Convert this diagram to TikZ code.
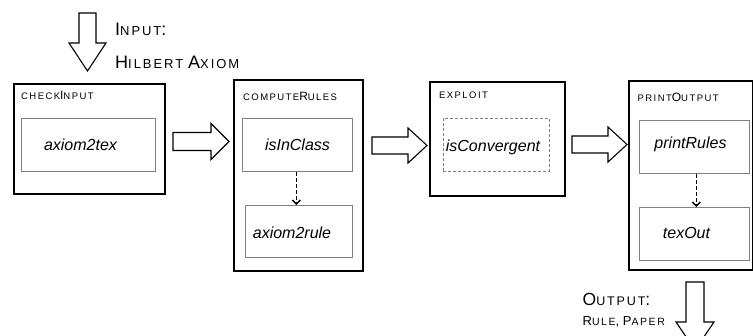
\documentclass[tikz,border=0pt]{standalone}
\usepackage{fontspec}
\setmainfont{Liberation Sans}
\newfontfamily\scfont[LetterSpace=15]{Liberation Sans}
\usetikzlibrary{arrows.meta}
\newcommand\smc[2]{{\fontsize{#1}{#1}\selectfont\scfont #2}}
\newcommand\bigc[2]{{\fontsize{#1}{#1}\selectfont #2}}
\definecolor{innergray}{RGB}{128,128,128}
\tikzset{
  outerbox/.style={draw=black, line width=2.4pt, fill=white, inner sep=0pt, anchor=north west},
  innerbox/.style={draw=innergray, line width=0.9pt, inner sep=0pt, anchor=north west},
  dashbox/.style={draw=innergray, line width=0.9pt, dash pattern=on 3pt off 2pt, inner sep=0pt, anchor=north west},
  lbl/.style={anchor=base west, inner sep=0pt},
  itxt/.style={anchor=base, inner sep=0pt, font=\fontsize{16}{16}\selectfont\itshape},
  blockarrow/.style={draw=black, line width=1.1pt, fill=white, line join=miter},
  dasharrow/.style={draw=black, line width=1.6pt, dash pattern=on 4pt off 2pt, -{Straight Barb[length=4pt,width=8pt,line width=1.4pt]}}
}
\begin{document}
\begin{tikzpicture}[x=1pt,y=-1pt]
\useasboundingbox (0,0) rectangle (753,336);
\clip (0,0) rectangle (753,336);

% outer boxes
\node[outerbox, minimum width=151pt, minimum height=110pt] (checkInput) at (13,83) {};
\node[outerbox, minimum width=129pt, minimum height=191pt] (computeRules) at (233,79) {};
\node[outerbox, minimum width=135pt, minimum height=114pt] (exploit) at (429,81) {};
\node[outerbox, minimum width=124pt, minimum height=189pt] (printOutput) at (628,80) {};

% inner boxes
\node[innerbox, minimum width=134pt, minimum height=53pt] (axiom2tex) at (21,118) {};
\node[innerbox, minimum width=110pt, minimum height=53pt] (isInClass) at (242,118) {};
\node[innerbox, minimum width=107pt, minimum height=52pt] (axiom2rule) at (245,205) {};
\node[dashbox, minimum width=106pt, minimum height=53pt] (isConvergent) at (443,118) {};
\node[innerbox, minimum width=110pt, minimum height=53pt] (printRules) at (639,120) {};
\node[innerbox, minimum width=110pt, minimum height=53pt] (texOut) at (639,207) {};

% inner texts
\node[itxt] (t1) at (80.5,150.7) {axiom2tex};
\node[itxt] (t2) at (297.5,151) {isInClass};
\node[itxt] (t3) at (292,239) {axiom2rule};
\node[itxt] (t4) at (493,151.5) {isConvergent};
\node[itxt] (t5) at (690.5,149) {printRules};
\node[itxt] (t6) at (686.5,239) {texOut};

% box labels
\node[lbl] (l1) at (21,99.3) {\smc{9.5}{CHECK}\bigc{12}{I}\smc{9.5}{NPUT}};
\node[lbl] (l2) at (243,100.5) {\smc{9.5}{COMPUTE}\bigc{12}{R}\smc{9.5}{ULES}};
\node[lbl] (l3) at (439,99) {\smc{9.5}{EXPLOIT}};
\node[lbl] (l4) at (637.5,101.3) {\smc{9.5}{PRINT}\bigc{12}{O}\smc{9.5}{UTPUT}};

% dashed arrows
\draw[dasharrow] ([xshift=-1pt]isInClass.south) -- ([xshift=-1pt]isInClass.south |- axiom2rule.north);
\draw[dasharrow] ([xshift=2pt]printRules.south) -- ([xshift=2pt]printRules.south |- texOut.north);

% block arrows
\draw[blockarrow] (173,132.5) -- (211,132.5) -- (211,123.5) -- (229,141.5) -- (211,159.5) -- (211,150.5) -- (173,150.5) -- cycle;
\draw[blockarrow] (372,137) -- (408,137) -- (408,128) -- (427,145.5) -- (408,163) -- (408,154) -- (372,154) -- cycle;
\draw[blockarrow] (572,136) -- (608,136) -- (608,127) -- (627,144.5) -- (608,162) -- (608,153) -- (572,153) -- cycle;
% input arrow
\draw[blockarrow] (79,13) -- (96,13) -- (96,43) -- (106,43) -- (87.5,71) -- (69,43) -- (79,43) -- cycle;
% output arrow
\draw[blockarrow] (686,282) -- (704,282) -- (704,322) -- (714,322) -- (695,350) -- (676,322) -- (686,322) -- cycle;

% input / output labels
\node[lbl] (inp1) at (115,36) {\bigc{18}{I}\smc{13}{NPUT}\bigc{18}{:}};
\node[lbl] (inp2) at (115,68.3) {\bigc{18}{H}\smc{13}{ILBERT}\bigc{18}{ A}\smc{13}{XIOM}};
\node[lbl] (out1) at (582.5,306) {\bigc{17.5}{O}\smc{12.5}{UTPUT}\bigc{17.5}{:}};
\node[lbl] (out2) at (582.5,326) {\bigc{13}{R}\smc{10.5}{ULE}\bigc{13}{, P}\smc{10.5}{APER}};
\end{tikzpicture}
\end{document}
